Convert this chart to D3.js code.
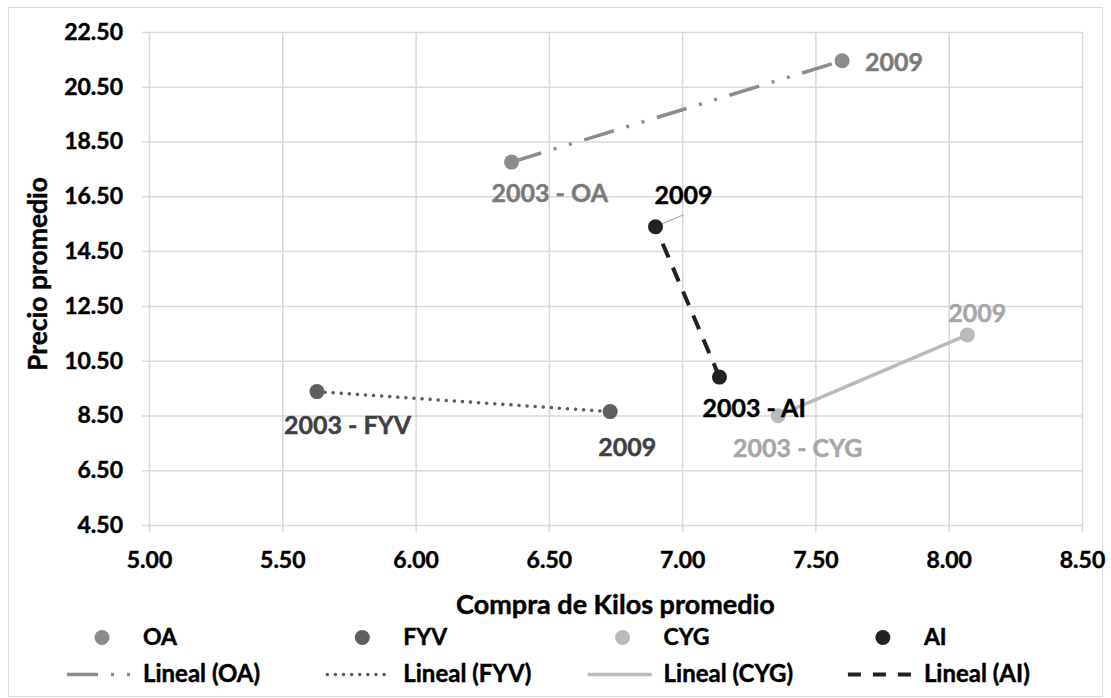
<!DOCTYPE html>
<html>
<head>
<meta charset="utf-8">
<script src="https://cdn.jsdelivr.net/npm/d3@7"></script>
<style>
  body { margin: 0; background: #fff; }
  text { font-family: Lato, "Open Sans", sans-serif; font-weight: bold; stroke-width: 0.45px; }
</style>
</head>
<body>
<div id="chart"></div>
<script>
// data
var seriesNames = ["OA", "FYV", "CYG", "AI"];
var years = ["2003", "2009"];
var kilosOA = [6.36, 7.60], precioOA = [17.75, 21.45];
var kilosFYV = [5.63, 6.73], precioFYV = [9.37, 8.64];
var kilosCYG = [7.36, 8.07], precioCYG = [8.49, 11.44];
var kilosAI = [7.14, 6.90], precioAI = [9.90, 15.39];
var xTicks = [5.00, 5.50, 6.00, 6.50, 7.00, 7.50, 8.00, 8.50];
var yTicks = [4.50, 6.50, 8.50, 10.50, 12.50, 14.50, 16.50, 18.50, 20.50, 22.50];

var W = 1111, H = 698;
var margin = {top: 32, right: 29, bottom: 173, left: 149},
    width = W - margin.left - margin.right,
    height = H - margin.top - margin.bottom;

// styles per series
var markerColor = {OA: "#8c8c8c", FYV: "#5f5f5f", CYG: "#bababa", AI: "#222222"};
var labelColor = {OA: "#7a7a7a", FYV: "#404040", CYG: "#a6a6a6", AI: "#000000"};
var dashes = {OA: "31,13,3,13,3,13", FYV: "0.1,8", CYG: null, AI: "15,11"};
var lineW = {OA: 3.5, FYV: 3.5, CYG: 3.5, AI: 4};
var caps = {OA: "butt", FYV: "round", CYG: "butt", AI: "butt"};
// label offsets (px) from each point: [2003, 2009]
var labelOffsets = {
  OA: [[-20, 40], [23, 10]],
  FYV: [[-33, 42], [-12, 44]],
  CYG: [[-45, 41], [-19, -13]],
  AI: [[-17, 40], [-1, -23]]
};

var data = [
  {name: "OA", kilos: kilosOA, precio: precioOA},
  {name: "FYV", kilos: kilosFYV, precio: precioFYV},
  {name: "CYG", kilos: kilosCYG, precio: precioCYG},
  {name: "AI", kilos: kilosAI, precio: precioAI}
];

var svg = d3.select("#chart").append("svg")
  .attr("width", W)
  .attr("height", H);

svg.append("rect")
  .attr("x", 8.5).attr("y", 7.5)
  .attr("width", 1094).attr("height", 689)
  .attr("fill", "#fff")
  .attr("stroke", "#d9d9d9");

var x = d3.scaleLinear().domain([5, 8.5]).range([margin.left, margin.left + width]);
var y = d3.scaleLinear().domain([4.5, 22.5]).range([margin.top + height, margin.top]);

// y grid + labels
var gy = svg.append("g")
  .attr("transform", `translate(${margin.left - 7},0)`)
  .call(d3.axisLeft(y).tickValues(yTicks).tickFormat(d3.format(".2f"))
    .tickSize(-(width + 7)).tickPadding(19));
gy.select(".domain").remove();
gy.selectAll("line").attr("stroke", "#d9d9d9").attr("stroke-width", 1.5);
gy.selectAll("text").attr("fill", "#000").attr("stroke", "#000").style("font-size", "23px")
  .style("font-family", "Lato").style("font-weight", "bold");

// x grid + labels
var gx = svg.append("g")
  .attr("transform", `translate(0,${margin.top + height + 7})`)
  .call(d3.axisBottom(x).tickValues(xTicks).tickFormat(d3.format(".2f"))
    .tickSize(-(height + 7)).tickPadding(20));
gx.select(".domain").remove();
gx.selectAll("line").attr("stroke", "#d9d9d9").attr("stroke-width", 1.5);
gx.selectAll("text").attr("fill", "#000").attr("stroke", "#000").style("font-size", "23px")
  .style("font-family", "Lato").style("font-weight", "bold");

// axis titles
svg.append("text")
  .attr("x", margin.left + width / 2)
  .attr("y", 614)
  .attr("text-anchor", "middle")
  .attr("stroke", "#000")
  .style("font-size", "27px")
  .text("Compra de Kilos promedio");

svg.append("text")
  .attr("transform", "rotate(-90)")
  .attr("x", -274)
  .attr("y", 47)
  .attr("text-anchor", "middle")
  .attr("stroke", "#000")
  .style("font-size", "26.5px")
  .text("Precio promedio");

// linear trend lines (fit through the two points)
data.forEach(function (s) {
  var mx = d3.mean(s.kilos), my = d3.mean(s.precio);
  var num = d3.sum(s.kilos, (k, i) => (k - mx) * (s.precio[i] - my));
  var den = d3.sum(s.kilos, k => (k - mx) * (k - mx));
  var slope = num / den, icpt = my - slope * mx;
  // start from the 2003 point so the dash pattern begins there
  var xs = [s.kilos[0], s.kilos[1]];
  svg.append("path")
    .datum(xs)
    .attr("d", d3.line().x(d => x(d)).y(d => y(slope * d + icpt)))
    .attr("fill", "none")
    .attr("stroke", markerColor[s.name])
    .attr("stroke-width", lineW[s.name])
    .attr("stroke-linecap", caps[s.name])
    .attr("stroke-dasharray", dashes[s.name]);
});

// leader line for AI 2009 label
svg.append("line")
  .attr("x1", x(kilosAI[1]) + 2).attr("y1", y(precioAI[1]) - 1)
  .attr("x2", x(kilosAI[1]) + 28).attr("y2", y(precioAI[1]) - 12)
  .attr("stroke", "#a6a6a6").attr("stroke-width", 1.2);

// markers
data.forEach(function (s) {
  svg.selectAll(null)
    .data(s.kilos)
    .enter().append("circle")
    .attr("cx", d => x(d))
    .attr("cy", (d, i) => y(s.precio[i]))
    .attr("r", 7.5)
    .attr("fill", markerColor[s.name]);
});

// data labels
data.forEach(function (s) {
  svg.selectAll(null)
    .data(s.kilos)
    .enter().append("text")
    .attr("x", (d, i) => x(d) + labelOffsets[s.name][i][0])
    .attr("y", (d, i) => y(s.precio[i]) + labelOffsets[s.name][i][1])
    .attr("fill", labelColor[s.name])
    .attr("stroke", labelColor[s.name])
    .style("font-size", "25px")
    .text((d, i) => i == 0 ? years[0] + " - " + s.name : years[1]);
});

// legend
var leg = svg.append("g");
seriesNames.forEach(function (n, i) {
  var x0 = 67 + i * 260.3;
  leg.append("circle")
    .attr("cx", x0 + 35).attr("cy", 637.5).attr("r", 7.5)
    .attr("fill", markerColor[n]);
  leg.append("text")
    .attr("x", x0 + 76).attr("y", 645)
    .attr("stroke", "#000")
    .style("font-size", "23px")
    .text(n);
  leg.append("line")
    .attr("x1", x0).attr("x2", x0 + 64)
    .attr("y1", 674.5).attr("y2", 674.5)
    .attr("stroke", markerColor[n])
    .attr("stroke-width", lineW[n])
    .attr("stroke-linecap", caps[n])
    .attr("stroke-dasharray", n == "AI" ? "13,12" : dashes[n]);
  leg.append("text")
    .attr("x", x0 + 76).attr("y", 682)
    .attr("stroke", "#000")
    .style("font-size", "24px")
    .text("Lineal (" + n + ")");
});
</script>
</body>
</html>
